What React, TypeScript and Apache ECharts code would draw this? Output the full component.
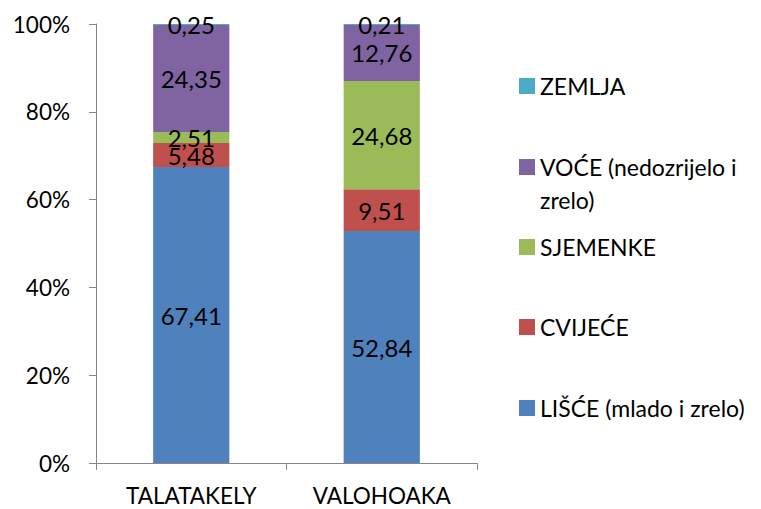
import React, { useEffect, useRef } from "react";
import * as echarts from "echarts";

const categories = ["TALATAKELY", "VALOHOAKA"];
const seriesNames = ["LIŠĆE (mlado i zrelo)", "CVIJEĆE", "SJEMENKE", "VOĆE (nedozrijelo i zrelo)", "ZEMLJA"];
const lisce = [67.41, 52.84];
const cvijece = [5.48, 9.51];
const sjemenke = [2.51, 24.68];
const voce = [24.35, 12.76];
const zemlja = [0.25, 0.21];
const yTicks = ["0%", "20%", "40%", "60%", "80%", "100%"];
const colors = ["#4F81BD", "#C0504D", "#9BBB59", "#8064A2", "#4BACC6"];

const FONT = "Lato, 'Open Sans', sans-serif";

export default function App() {
  const ref = useRef<HTMLDivElement>(null);
  useEffect(() => {
    if (!ref.current) return;
    const chart = echarts.init(ref.current, null, { renderer: "svg" });
    const values = [lisce, cvijece, sjemenke, voce, zemlja];
    const series = seriesNames.map((name, i) => ({
      name,
      type: "bar",
      stack: "total",
      barWidth: "40%",
      data: values[i],
      itemStyle: { color: colors[i] },
      label: {
        show: true,
        position: "inside",
        color: "#000",
        fontSize: 24,
        fontFamily: FONT,
        formatter: (p: any) => Number(p.value).toFixed(2).replace(".", ","),
      },
    }));
    const legendCenters: Record<string, number> = {
      "ZEMLJA": 86,
      "VOĆE (nedozrijelo i zrelo)": 167,
      "SJEMENKE": 247,
      "CVIJEĆE": 327,
      "LIŠĆE (mlado i zrelo)": 408,
    };
    const legends = Object.keys(legendCenters).map((name) => {
      const multi = name.startsWith("VOĆE");
      return {
        left: 519,
        top: multi ? legendCenters[name] - 49.5 : legendCenters[name] - 13,
        padding: 0,
        itemWidth: 16,
        itemHeight: 16,
        itemGap: 0,
        selectedMode: false,
        icon: "rect",
        data: [name],
        formatter: multi ? () => " \nVOĆE (nedozrijelo i\nzrelo)" : undefined,
        textStyle: {
          fontSize: 23,
          fontFamily: FONT,
          color: "#000",
          lineHeight: multi ? 33 : 26,
        },
      };
    });
    chart.setOption({
      animation: false,
      grid: { left: 96, right: 284, top: 24, bottom: 46, containLabel: false },
      legend: legends,
      xAxis: {
        type: "category",
        data: categories,
        axisLine: { lineStyle: { color: "#868686" } },
        axisTick: { show: true, length: 7, lineStyle: { color: "#868686" } },
        axisLabel: { color: "#000", fontSize: 22.5, fontFamily: FONT, margin: 21 },
      },
      yAxis: {
        type: "value",
        min: 0,
        max: 100,
        interval: 20,
        axisLine: { show: true, lineStyle: { color: "#868686" } },
        axisTick: { show: true, length: 7, lineStyle: { color: "#868686" } },
        splitLine: { show: false },
        axisLabel: {
          color: "#000",
          fontSize: 22.5,
          fontFamily: FONT,
          margin: 26,
          formatter: (v: number) => yTicks[Math.round(v / 20)],
        },
      },
      series,
    });
    return () => chart.dispose();
  }, []);
  return <div ref={ref} style={{ width: 761, height: 509, position: "absolute", left: 0, top: 0, background: "#fff" }} />;
}
